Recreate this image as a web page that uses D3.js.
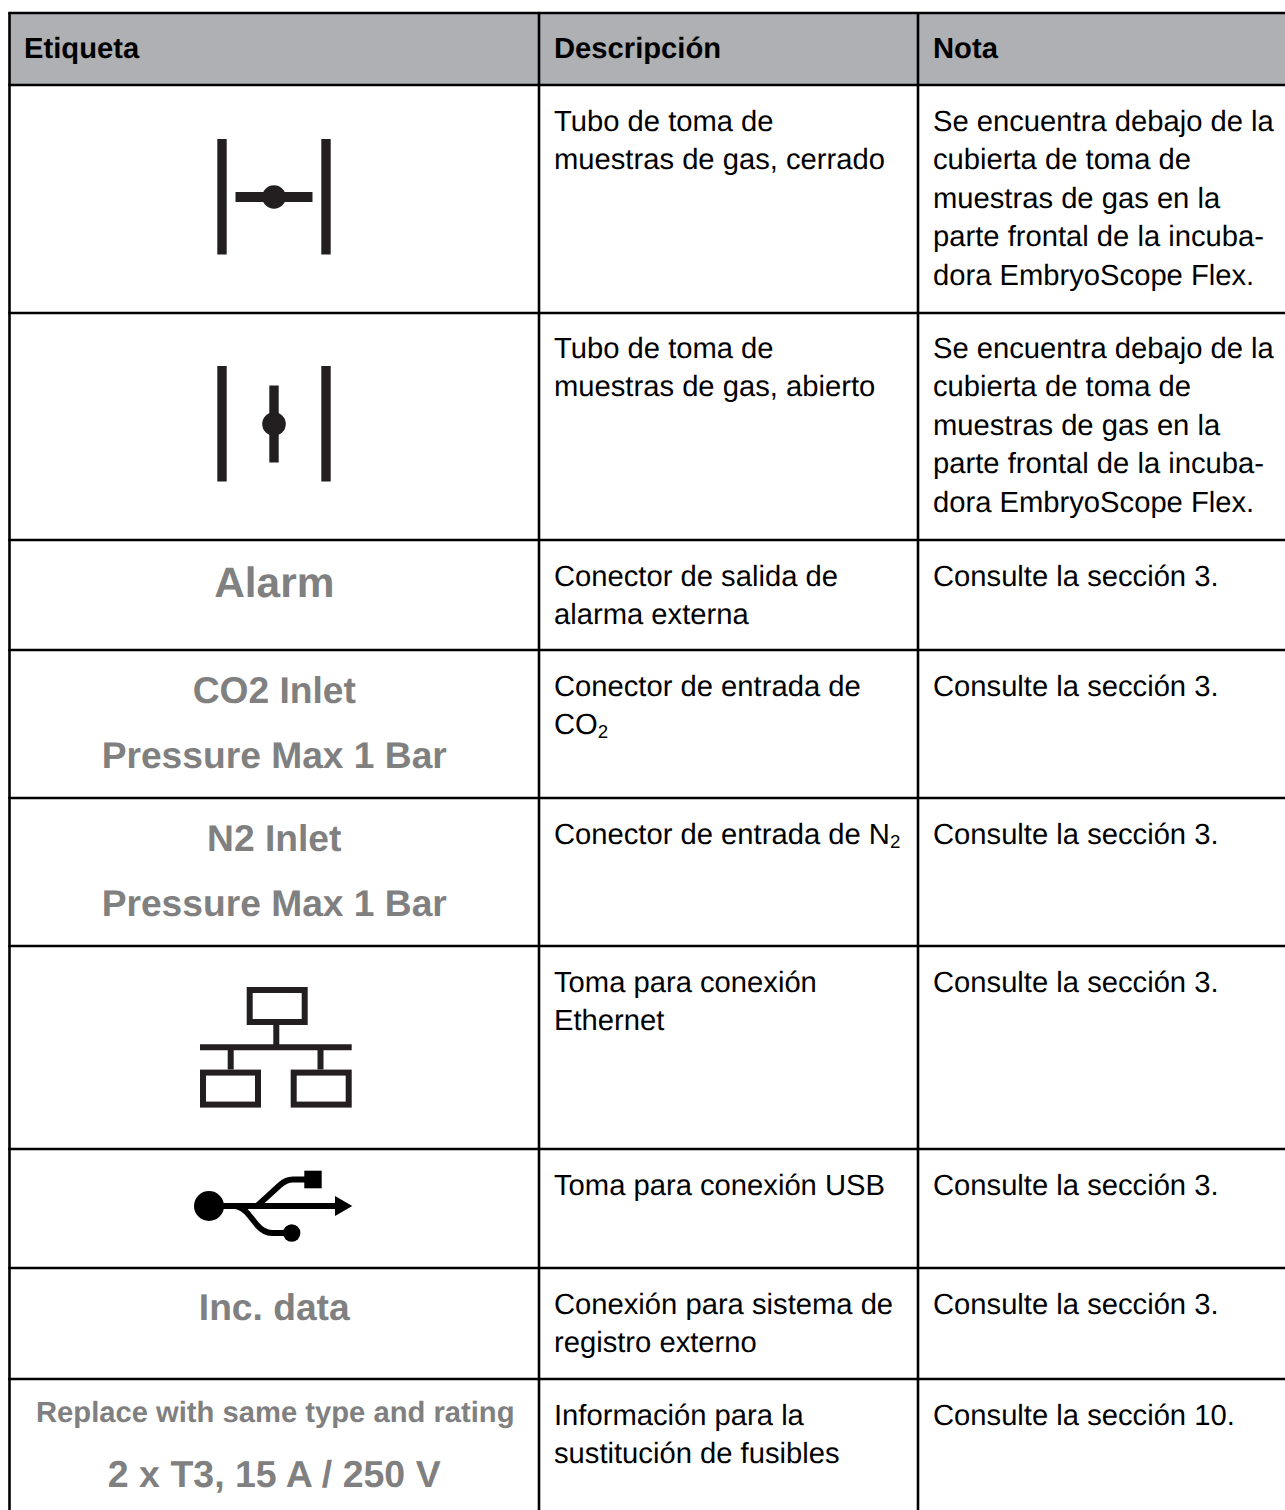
<!DOCTYPE html>
<html lang="es">
<head>
<meta charset="utf-8">
<script src="https://cdn.jsdelivr.net/npm/d3@7"></script>
<style>
  html, body { margin: 0; padding: 0; background: #fff; }
  svg { display: block; }
  text { font-family: "Liberation Sans", Arial, sans-serif; text-rendering: geometricPrecision; }
</style>
</head>
<body>
<div id="visualization"></div>
<script>
const headers = ['Etiqueta', 'Descripción', 'Nota'];

const labels = [
    {icon: 'closed'},
    {icon: 'open'},
    {lines: ['Alarm']},
    {lines: ['CO2 Inlet', 'Pressure Max 1 Bar']},
    {lines: ['N2 Inlet', 'Pressure Max 1 Bar']},
    {icon: 'ethernet'},
    {icon: 'usb'},
    {lines: ['Inc. data']},
    {lines: ['Replace with same type and rating', '2 x T3, 15 A / 250 V'], small: true}
];

const descriptions = [
    ['Tubo de toma de', 'muestras de gas, cerrado'],
    ['Tubo de toma de', 'muestras de gas, abierto'],
    ['Conector de salida de', 'alarma externa'],
    ['Conector de entrada de', 'CO₂'],
    ['Conector de entrada de N₂'],
    ['Toma para conexión', 'Ethernet'],
    ['Toma para conexión USB'],
    ['Conexión para sistema de', 'registro externo'],
    ['Información para la', 'sustitución de fusibles']
];

const sampleNote = [
    'Se encuentra debajo de la',
    'cubierta de toma de',
    'muestras de gas en la',
    'parte frontal de la incuba-',
    'dora EmbryoScope Flex.'
];

const notes = [
    sampleNote,
    sampleNote,
    ['Consulte la sección 3.'],
    ['Consulte la sección 3.'],
    ['Consulte la sección 3.'],
    ['Consulte la sección 3.'],
    ['Consulte la sección 3.'],
    ['Consulte la sección 3.'],
    ['Consulte la sección 10.']
];

const svgWidth = 1285,
      svgHeight = 1510;

// grid lines of the table, it runs off the right and bottom of the page
const colEdges = [9.5, 539, 918],
      rowEdges = [13, 85, 313, 540, 650, 798, 946, 1149, 1268, 1379],
      rowBase = [130.5, 357.5, 585.5, 695.5, 843.5, 991.5, 1194.5, 1313.5, 1424.5],
      textLeft = [24, 554, 933],
      bodySize = 29.2,
      bodyLeading = 38.6,
      iconColor = '#231f20';

const svg = d3.select('#visualization')
    .append('svg')
    .attr('width', svgWidth)
    .attr('height', svgHeight);

// header band
svg.append('rect')
    .attr('x', colEdges[0])
    .attr('y', rowEdges[0])
    .attr('width', svgWidth - colEdges[0])
    .attr('height', rowEdges[1] - rowEdges[0])
    .attr('fill', '#aeb0b3');

svg.selectAll('.head')
    .data(headers)
    .enter()
    .append('text')
    .attr('class', 'head')
    .attr('x', (d, i) => textLeft[i])
    .attr('y', rowEdges[0] + 45)
    .attr('font-size', bodySize)
    .attr('font-weight', 'bold')
    .attr('fill', '#000')
    .text(d => d);

// body text, ₂ is drawn as a small lowered 2
function addBodyLines(col, lines, rowIdx) {
    lines.forEach((line, i) => {
        const t = svg.append('text')
            .attr('x', textLeft[col])
            .attr('y', rowBase[rowIdx] + i * bodyLeading)
            .attr('font-size', bodySize)
            .attr('fill', '#000');
        const parts = line.split('₂');
        t.append('tspan').text(parts[0]);
        if (parts.length > 1) {
            t.append('tspan')
                .attr('font-size', 18.7)
                .attr('dy', 4)
                .text('2');
        }
    });
}

descriptions.forEach((lines, i) => addBodyLines(1, lines, i));
notes.forEach((lines, i) => addBodyLines(2, lines, i));

// grey printed labels in the first column
const labelX = (colEdges[0] + colEdges[1]) / 2;
const labelBase = {
    2: [597],
    3: [703, 768],
    4: [851, 916],
    7: [1320],
    8: [1422, 1487]
};

labels.forEach((d, i) => {
    if (!d.lines) return;
    d.lines.forEach((line, j) => {
        let size = i === 2 ? 42.4 : 37.2;
        if (d.small) size = j === 0 ? 29.2 : 37.5;
        svg.append('text')
            .attr('x', labelX + (d.small && j === 0 ? 1 : 0))
            .attr('y', labelBase[i][j])
            .attr('text-anchor', 'middle')
            .attr('font-size', size)
            .attr('font-weight', 'bold')
            .attr('fill', '#808080')
            .text(line);
    });
});

// icons, drawn around the middle of their cell
function drawValve(g, horizontal) {
    [-52, 52].forEach(dx => {
        g.append('rect')
            .attr('x', dx - 4.7)
            .attr('y', -58)
            .attr('width', 9.4)
            .attr('height', 115.5)
            .attr('fill', iconColor);
    });
    g.append('rect')
        .attr('x', horizontal ? -38.5 : -4.7)
        .attr('y', horizontal ? -5 : -38.5)
        .attr('width', horizontal ? 77 : 9.4)
        .attr('height', horizontal ? 10 : 77)
        .attr('fill', iconColor);
    g.append('circle')
        .attr('r', 11.8)
        .attr('fill', iconColor);
}

function drawEthernet(g) {
    const sw = 6;
    const boxes = [[-28.3, -60.3], [-75, 22.3], [15.7, 22.3]];
    g.selectAll('rect')
        .data(boxes)
        .enter()
        .append('rect')
        .attr('x', d => d[0] + sw / 2)
        .attr('y', d => d[1] + sw / 2)
        .attr('width', 61 - sw)
        .attr('height', 38 - sw)
        .attr('fill', 'none')
        .attr('stroke', iconColor)
        .attr('stroke-width', sw);
    const p = d3.path();
    p.moveTo(-75, 0); p.lineTo(76.7, 0);
    p.moveTo(1.3, -24); p.lineTo(1.3, 0);
    p.moveTo(-44.3, 0); p.lineTo(-44.3, 22.3);
    p.moveTo(45.5, 0); p.lineTo(45.5, 22.3);
    g.append('path')
        .attr('d', p.toString())
        .attr('fill', 'none')
        .attr('stroke', iconColor)
        .attr('stroke-width', sw);
}

function drawUsb(g) {
    g.append('circle').attr('cx', -66).attr('r', 15).attr('fill', '#000');
    g.append('circle').attr('cx', 16.7).attr('cy', 27).attr('r', 8.7).attr('fill', '#000');
    g.append('rect')
        .attr('x', 29.3)
        .attr('y', -35.3)
        .attr('width', 17.4)
        .attr('height', 17.6)
        .attr('fill', '#000');
    g.append('path')
        .attr('d', d3.line()([[60, -10], [77.3, 0], [60, 10]]) + 'Z')
        .attr('fill', '#000');
    const p = d3.path();
    p.moveTo(-66, 0); p.lineTo(62, 0);
    p.moveTo(-18, 0);
    p.lineTo(5, -21);
    p.quadraticCurveTo(11, -26.5, 18, -26.5);
    p.lineTo(32, -26.5);
    p.moveTo(-40, 0);
    p.quadraticCurveTo(-32, 1, -26, 9);
    p.lineTo(-18, 19);
    p.quadraticCurveTo(-11, 27, -3, 27);
    p.lineTo(16, 27);
    g.append('path')
        .attr('d', p.toString())
        .attr('fill', 'none')
        .attr('stroke', '#000')
        .attr('stroke-width', 5.8);
}

const iconPos = {
    closed: [274, 197],
    open: [274, 424],
    ethernet: [275, 1047.3],
    usb: [275, 1206]
};

labels.forEach(d => {
    if (!d.icon) return;
    const g = svg.append('g')
        .attr('transform', `translate(${iconPos[d.icon][0]}, ${iconPos[d.icon][1]})`);
    if (d.icon === 'closed') drawValve(g, true);
    if (d.icon === 'open') drawValve(g, false);
    if (d.icon === 'ethernet') drawEthernet(g);
    if (d.icon === 'usb') drawUsb(g);
});

// grid
svg.selectAll('.hline')
    .data(rowEdges)
    .enter()
    .append('line')
    .attr('class', 'hline')
    .attr('x1', colEdges[0] - 1.3)
    .attr('x2', svgWidth)
    .attr('y1', d => d)
    .attr('y2', d => d)
    .attr('stroke', '#000')
    .attr('stroke-width', 2.6);

svg.selectAll('.vline')
    .data(colEdges)
    .enter()
    .append('line')
    .attr('class', 'vline')
    .attr('x1', d => d)
    .attr('x2', d => d)
    .attr('y1', rowEdges[0])
    .attr('y2', svgHeight)
    .attr('stroke', '#000')
    .attr('stroke-width', 2.6);
</script>
</body>
</html>
